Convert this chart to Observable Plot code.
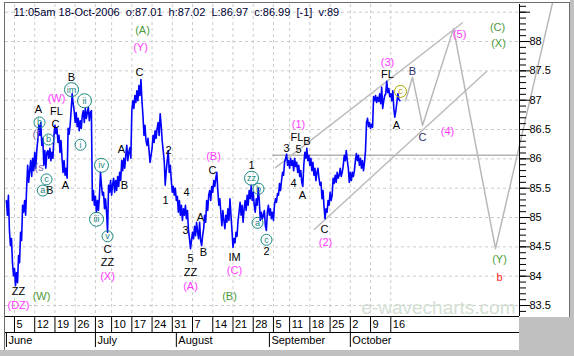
<!DOCTYPE html>
<html><head><meta charset="utf-8">
<script src="https://cdn.jsdelivr.net/npm/d3@7"></script>
<script src="https://cdn.jsdelivr.net/npm/@observablehq/plot@0.6"></script>
<style>
html,body{margin:0;padding:0;background:#c0c0c0;}
#wrap{position:relative;width:574px;height:356px;background:#c0c0c0;overflow:hidden;}
#wrap svg{position:absolute;left:0;top:0;background:#fff;}
.deco{position:absolute;background:#6e6e6e;}
.corner{position:absolute;left:519px;top:317px;width:55px;height:39px;background:#c0c0c0;}
</style></head>
<body>
<div id="wrap"></div>
<script>
// ---- data ----
const title = "11:05am 18-Oct-2006\u00a0\u00a0o:87.01\u00a0 h:87.02\u00a0 L:86.97\u00a0 c:86.99\u00a0 [-1]\u00a0 v:89";
const startDay = -2;   // 1 June 2006, in trading days counted from 5 June
const barStep = 0.25;  // quarter-day bars
const price = [
85.29,85.04,85.38,84.78,84.52,84.64,84.23,84.01,84.13,83.84,84.06,83.89,84.35,84.23,84.75,84.61,85.21,85.09,85.29,85.04,
85.50,85.89,85.60,85.80,85.97,85.70,86.01,85.80,86.11,85.84,86.14,86.31,86.57,86.40,86.62,86.23,86.35,85.89,86.14,85.84,86.11,
86.14,86.01,86.18,85.97,86.11,86.01,86.40,86.57,86.43,86.52,86.28,86.40,86.11,86.31,86.01,85.77,85.97,85.72,85.84,85.67,
86.52,86.42,86.57,86.82,87.11,86.94,86.82,86.62,86.79,86.55,86.69,86.48,86.65,86.52,86.74,86.82,86.62,86.86,86.69,86.79,86.88,86.65,86.79,86.82,
85.29,85.46,85.21,85.36,85.09,85.29,85.12,85.38,85.77,85.55,85.38,85.43,85.15,85.32,85.09,84.75,85.55,85.43,85.63,85.38,85.56,85.67,85.43,85.63,85.46,85.70,85.53,85.77,85.63,85.97,85.80,86.01,85.84,86.06,
86.23,85.97,86.11,86.19,86.01,86.82,86.99,86.86,87.08,86.96,87.16,86.99,87.25,87.08,87.35,86.99,86.74,86.40,86.57,86.31,86.23,86.35,86.14,85.94,86.06,86.18,86.40,86.28,86.48,86.35,86.52,86.62,86.40,86.77,86.57,86.31,
86.14,85.97,85.55,85.80,85.97,86.14,85.77,85.89,85.63,85.43,85.53,85.38,85.50,85.29,85.36,85.09,85.29,85.04,85.21,84.95,85.15,85.04,85.21,84.98,85.12,84.78,84.64,84.47,84.61,84.75,84.64,84.85,84.69,84.92,84.75,
84.64,84.92,84.61,84.52,84.69,84.81,85.04,84.92,85.29,85.12,85.38,85.46,85.29,85.53,85.43,85.63,85.53,85.67,85.77,85.46,
85.21,85.32,85.09,84.86,85.12,84.95,84.81,85.04,84.92,85.15,84.95,85.32,85.04,84.78,84.49,84.64,84.57,84.75,84.68,84.95,
85.09,85.26,85.04,85.21,84.92,85.15,85.29,85.12,85.38,85.21,85.46,85.32,85.55,85.29,85.43,85.21,85.09,85.32,85.21,85.50,
85.29,84.95,85.09,84.98,
85.04,85.12,84.86,84.78,85.09,85.21,85.04,85.15,84.98,85.09,84.95,85.21,85.32,85.26,85.41,85.38,85.58,85.46,85.63,85.77,
85.72,85.94,86.01,86.08,85.89,85.97,85.84,86.01,85.89,85.97,85.80,86.01,85.87,85.94,85.77,85.89,85.70,85.80,85.60,85.53,
85.89,86.11,86.01,86.18,85.97,86.06,85.89,86.01,85.80,85.94,85.72,85.84,85.63,85.77,85.84,85.67,85.55,85.60,85.32,85.46,
85.19,84.98,85.15,85.09,85.29,85.21,85.43,85.29,85.38,85.67,85.58,85.72,85.60,85.77,85.67,
85.72,85.84,85.70,85.77,85.89,86.06,85.97,86.14,85.97,85.84,85.60,85.77,85.63,85.77,85.70,85.80,85.97,86.09,85.97,86.06,
85.89,86.01,85.84,85.97,85.80,85.94,86.14,86.62,86.69,86.55,86.62,86.52,86.59,86.54,87.06,86.99,87.08,86.96,87.05,86.98,
87.11,86.94,87.22,86.86,86.99,87.08,87.11,87.32,87.13,87.20,87.06,87.11,86.99,87.16,86.86,86.71,86.82,86.96,87.11,87.01,86.99
];
const weekTickDays   = [0,5,10,15,20,24,29,34,39,44,49,54,59,64,68,73,78,83,88,93];
const weekTickLabels = ["5","12","19","26","3","10","17","24","31","7","14","21","28","5","11","18","25","2","9","16"];
const monthStartDays = [-2,20,40,63,83];
const monthLabels    = ["June","July","August","September","October"];
const majorPriceTicks = [83.5,84,84.5,85,85.5,86,86.5,87,87.5,88,88.5];
const minorPriceTicks = d3.range(834,887).map(v => v/10);
const projDay   = [96.64,98.37,100.84,108.5,118.88,132.97];
const projPrice = [86.99,87.39,86.57,88.22,84.47,88.66];
const upperChDay = [64.51,110.73], upperChPrice = [85.85,88.32];
const lowerChDay = [74.15,116.66], lowerChPrice = [84.80,87.49];
const pivotLevel = 86.06, pivotFromDay = 63.8;

const blackLabels = [["ZZ",0.99,83.74],["A",5.93,86.84],["FL",10.38,86.81],["C",10.13,86.59],["B",14.09,87.39],["A",12.61,85.55],["B",8.7,85.46],["A",26.45,86.16],["C",30.89,87.47],["2",38.06,86.14],["B",27.19,85.55],["C",22.99,84.46],["ZZ",22.99,84.23],["1",37.32,85.29],["4",42.51,85.43],["3",42.26,84.78],["5",43.5,84.30],["ZZ",43.5,84.06],["A",45.97,85.0],["B",46.71,84.40],["C",48.94,85.80],["IM",54.37,84.32],["1",58.58,85.89],["2",62.28,84.42],["3",67.23,86.18],["FL",69.8,86.36],["B",72.3,86.29],["5",70.19,86.16],["4",68.96,85.58],["A",71.18,85.38],["C",76.62,84.80],["FL",92.19,87.44],["A",94.41,86.57]];
const navyLabels = [["B",98.37,87.49],["C",100.84,86.36]];
const magentaLabels = [["(W)",10.38,87.03],["(Y)",31.14,87.90],["(DZ)",0.99,83.50],["(X)",22.99,83.99],["(A)",43.5,83.82],["(B)",49.18,86.04],["(C)",54.37,84.10],["(1)",70.19,86.59],["(2)",76.87,84.57],["(3)",92.19,87.64],["(4)",107.02,86.47],["(5)",110.0,88.12]];
const greenLabels = [["(A)",31.64,88.19],["(W)",6.67,83.66],["(B)",53.14,83.66],["(C)",119.38,88.24],["(X)",119.62,87.97],["(Y)",119.87,84.28]];
const redLabels = [["b",119.87,83.98]];
const purpleLabels = [["(f",5.3,86.41],["(s",6.1,85.85]];
const tealCircles = [["im",14.09,87.18],["ii",17.30,86.99],["i",16.31,86.24],["iv",21.50,85.89],["iii",20.27,84.97],["v",22.99,84.68],["b",6.18,86.62],["b",8.40,86.33],["c",7.91,85.65],["a",7.0,85.46],["zz",58.58,85.67],["b",60.31,85.49],["a",60.06,84.91],["c",62.28,84.62]];
const oliveCircles = [["c",95.40,87.15]];

// ---- build ----
const xMin = -2.224, xMax = 124.81, yMin = 83.313, yMax = 88.631;
const bars = price.map((p, i) => ({day: startDay + i * barStep, price: p}));
const pts = (ds, ps) => ds.map((d, i) => ({day: d, price: ps[i]}));
const obj = ([text, day, price]) => ({text, day, price});
const teal = "#17877f";
const labelMark = (arr, fill, extra = {}) => Plot.text(arr.map(obj), {x: "day", y: "price", text: "text", fill, fontSize: 11, ...extra});

const chart = Plot.plot({
  width: 570, height: 350,
  marginLeft: 5, marginRight: 51, marginTop: 4, marginBottom: 34,
  x: {domain: [xMin, xMax], axis: null},
  y: {domain: [yMin, yMax], axis: null},
  r: {type: "identity"},
  style: {fontFamily: "'Liberation Sans', Arial, sans-serif", fontSize: "11px", background: "white", color: "black"},
  marks: [
    Plot.ruleX(weekTickDays, {stroke: "#cccccc", strokeDasharray: "3,3"}),
    Plot.ruleY(majorPriceTicks, {stroke: "#cccccc", strokeDasharray: "3,3"}),
    Plot.text(["e-wavecharts.com"], {text: d => d, frameAnchor: "bottom-right", textAnchor: "end", lineAnchor: "middle", dx: -4, dy: -9, fontSize: 19, fill: "#d3e0d3"}),
    Plot.ruleY([pivotLevel], {x1: pivotFromDay, x2: xMax, stroke: "#b4b4b4", strokeWidth: 1.5}),
    Plot.line(pts(upperChDay, upperChPrice), {x: "day", y: "price", stroke: "#bcbcbc"}),
    Plot.line(pts(lowerChDay, lowerChPrice), {x: "day", y: "price", stroke: "#bcbcbc"}),
    Plot.line(pts(projDay, projPrice), {x: "day", y: "price", stroke: "#b8b8b8"}),
    Plot.line(bars, {x: "day", y: "price", stroke: "#0000ff", strokeWidth: 1.6}),
    labelMark(blackLabels, "#000000"),
    labelMark(navyLabels, "#2e2e6e"),
    labelMark(magentaLabels, "#ff3cff"),
    labelMark(greenLabels, "#4e9a3a"),
    labelMark(redLabels, "#ff2020"),
    labelMark(purpleLabels, "#8068b0"),
    Plot.dot(tealCircles.map(obj), {x: "day", y: "price", r: d => d.text.length > 1 ? 7 : 5.5, stroke: teal, fill: "none", strokeWidth: 1}),
    Plot.text(tealCircles.map(obj), {x: "day", y: "price", text: "text", fill: teal, fontSize: 9}),
    Plot.dot(oliveCircles.map(obj), {x: "day", y: "price", r: 6, stroke: "#a8a800", fill: "none", strokeWidth: 1}),
    Plot.text(oliveCircles.map(obj), {x: "day", y: "price", text: "text", fill: "#c09a00", fontSize: 9}),
    // x axis rows
    Plot.ruleY([yMin], {stroke: "black"}),
    Plot.ruleY([yMin], {stroke: "black", dy: 16}),
    Plot.ruleX(weekTickDays, {stroke: "black", insetTop: 312, insetBottom: -16}),
    Plot.ruleX(monthStartDays, {stroke: "black", insetTop: 328, insetBottom: -31}),
    Plot.text(weekTickDays, {x: d => d, text: (d, i) => weekTickLabels[i], frameAnchor: "bottom", textAnchor: "start", lineAnchor: "middle", dx: 2, dy: 8, fontSize: 11, fill: "black"}),
    Plot.text(monthStartDays, {x: d => d, text: (d, i) => monthLabels[i], frameAnchor: "bottom", textAnchor: "start", lineAnchor: "middle", dx: 2, dy: 23.5, fontSize: 11, fill: "black"}),
    // y axis
    Plot.ruleX([xMax], {stroke: "black"}),
    Plot.axisY({anchor: "right", ticks: minorPriceTicks, tickSize: 6, label: null, tickFormat: () => ""}),
    Plot.axisY({anchor: "right", ticks: majorPriceTicks, tickSize: 10, tickPadding: 0, label: null, fontSize: 11, tickFormat: d => d > 88.2 ? "" : String(+d.toFixed(1))}),
    Plot.text([title], {text: d => d, frameAnchor: "top-left", lineAnchor: "middle", dx: 8, dy: 8, fontSize: 11, fill: "#000033"})
  ]
});
const wrap = document.getElementById("wrap");
wrap.appendChild(chart);
for (const [l, t, w, h] of [[4,2,566,1],[4,2,1,348],[569,2,1,315]]) {
  const d = document.createElement("div");
  d.className = "deco";
  Object.assign(d.style, {left: l + "px", top: t + "px", width: w + "px", height: h + "px"});
  wrap.appendChild(d);
}
const c = document.createElement("div"); c.className = "corner"; wrap.appendChild(c);
</script>
</body></html>
